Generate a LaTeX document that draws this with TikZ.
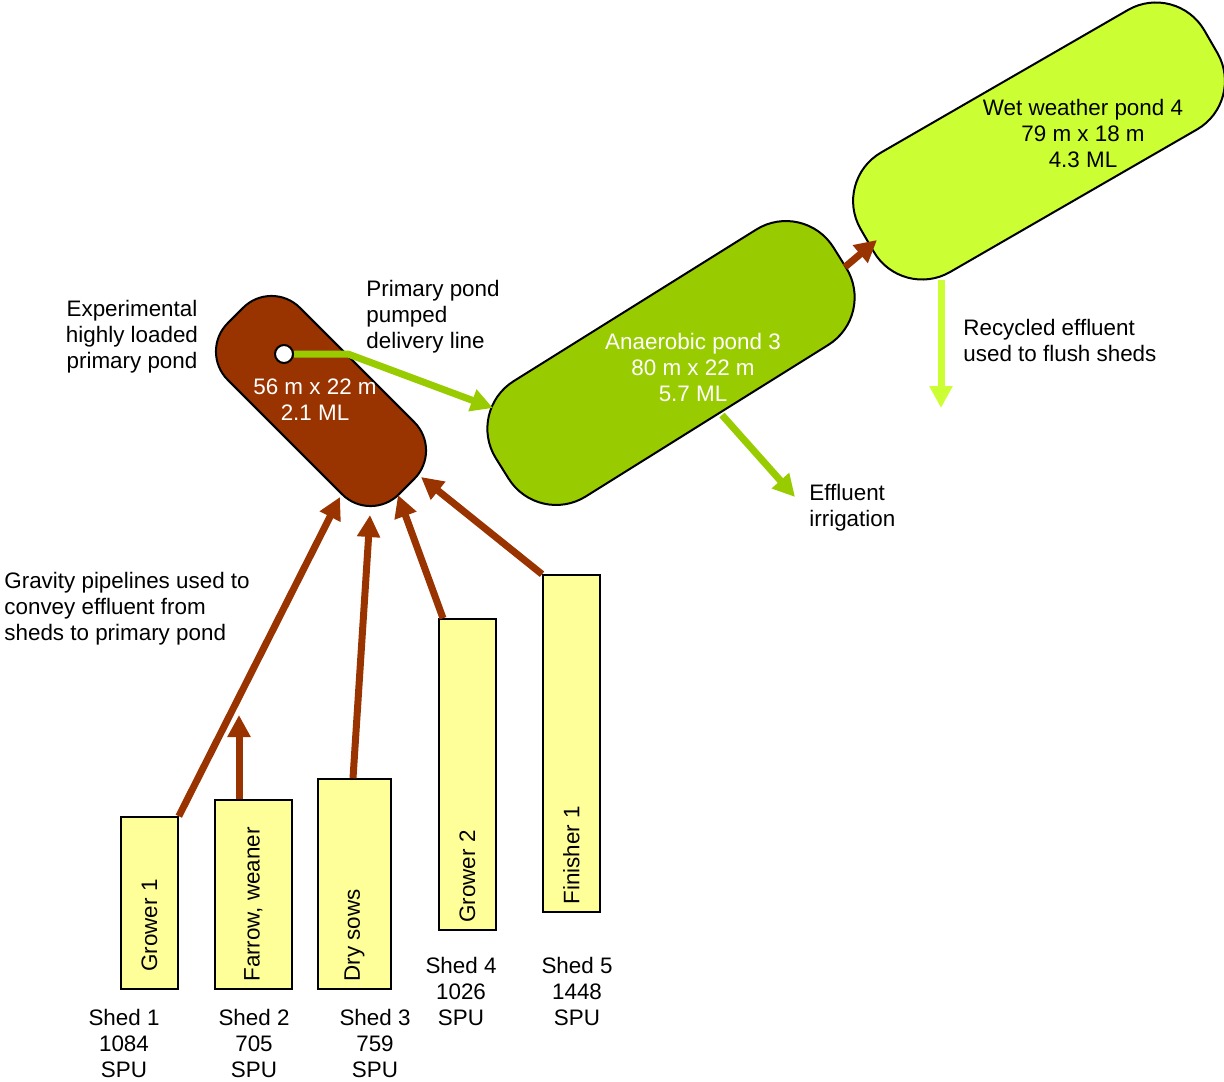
\documentclass[tikz,border=0pt]{standalone}
\usepackage{fontspec}
\setmainfont{Liberation Sans}
\usetikzlibrary{arrows.meta}
\definecolor{pondBrown}{HTML}{993300}
\definecolor{pondGreen}{HTML}{99CC00}
\definecolor{pondLime}{HTML}{CCFF33}
\definecolor{shedYellow}{HTML}{FFFF99}

\begin{document}
\begin{tikzpicture}[x=0.5pt, y=-0.5pt, font=\fontsize{11.2}{13}\selectfont,
  pond/.style={draw, line width=1pt},
  shedbox/.style={draw, line width=0.9pt, fill=shedYellow, anchor=south west},
  shedname/.style={rotate=90, anchor=west, inner sep=0pt},
  lbl/.style={align=center, inner sep=0pt},
  pipe/.style={line width=3.5pt, draw=pondBrown, -{Triangle[length=11pt,width=11pt]}},
  flow/.style={line width=3.5pt, draw=#1, -{Triangle[length=11pt,width=11pt,fill=#1]}}]
\useasboundingbox (0,0) rectangle (1224,1081);
% ponds
\node[pond, fill=pondBrown, minimum width=121pt, minimum height=51pt, rounded corners=20pt, rotate=-45] (P1) at (321,401) {};
\node[pond, fill=pondGreen, minimum width=199pt, minimum height=68pt, rounded corners=28pt, rotate=32] (P3) at (671,363) {};
\node[pond, fill=pondLime, minimum width=198.5pt, minimum height=69pt, rounded corners=28pt, rotate=30] (P4) at (1039,141) {};
\node[circle, draw, fill=white, line width=1pt, minimum size=9pt, inner sep=0pt] (hole) at (284,354) {};
\node[lbl, text=white] (P1txt) at (315,400) {56 m x 22 m\\2.1 ML};
\node[lbl, text=white] (P3txt) at (693,367) {Anaerobic pond 3\\80 m x 22 m\\5.7 ML};
\node[lbl] (P4txt) at (1083,133) {Wet weather pond 4\\79 m x 18 m\\4.3 ML};

% sheds
\node[shedbox, minimum width=28.5pt, minimum height=86pt] (s1) at (120,990) {};
\node[shedbox, minimum width=38.5pt, minimum height=94.5pt] (s2) at (214,990) {};
\node[shedbox, minimum width=36.5pt, minimum height=105pt] (s3) at (317,990) {};
\node[shedbox, minimum width=28.5pt, minimum height=155.5pt] (s4) at (438,931) {};
\node[shedbox, minimum width=28.5pt, minimum height=168.5pt] (s5) at (542,913) {};
\node[shedname] at ([yshift=9pt]s1.south) {Grower 1};
\node[shedname] at ([yshift=4pt]s2.south) {Farrow, weaner};
\node[shedname] at ([yshift=4pt]s3.south) {Dry sows};
\node[shedname] at ([yshift=4pt]s4.south) {Grower 2};
\node[shedname] at ([yshift=4pt]s5.south) {Finisher 1};
\node[lbl] (s1txt) at (124,1043) {Shed 1\\1084\\SPU};
\node[lbl] (s2txt) at (254,1043) {Shed 2\\705\\SPU};
\node[lbl] (s3txt) at (375,1043) {Shed 3\\759\\SPU};
\node[lbl] (s4txt) at (461,991) {Shed 4\\1026\\SPU};
\node[lbl] (s5txt) at (577,991) {Shed 5\\1448\\SPU};

% gravity pipelines into the primary pond
\coordinate (in1) at (340,497);
\coordinate (in2) at (239,715);
\coordinate (in3) at (370,515);
\coordinate (in4) at (398,495);
\coordinate (in5) at (421,477);
\draw[pipe] (s1.north east) -- (in1);
\draw[pipe] (s2.north -| in2) -- (in2);
\draw[pipe] ([xshift=18pt]s3.north west) -- (in3);
\draw[pipe] ([xshift=2.5pt]s4.north west) -- (in4);
\draw[pipe] (s5.north west) -- (in5);

% pond to pond
\coordinate (bend) at (348,354);
\coordinate (inP3) at (493,408);
\draw[flow=pondGreen] (hole.east) -- (bend) -- (inP3);
\coordinate (outP3) at (845,267);
\coordinate (inP4) at (877,240);
\draw[pipe] (outP3) -- (inP4);
\coordinate (irrA) at (722,415);
\coordinate (irrB) at (795,497);
\draw[flow=pondGreen] (irrA) -- (irrB);
\coordinate (flushA) at (941,280);
\coordinate (flushB) at (941,408);
\draw[flow=pondLime] (flushA) -- (flushB);

% notes
\node[lbl] (expTxt) at (132,337) {Experimental\\highly loaded\\primary pond};
\node[lbl, align=left, anchor=west] (pumpTxt) at (366,317) {Primary pond\\pumped\\delivery line};
\node[lbl, align=left, anchor=west] (flushTxt) at (963,340) {Recycled effluent\\used to flush sheds};
\node[lbl, align=left, anchor=west] (irrTxt) at (809,508) {Effluent\\irrigation};
\node[lbl, align=left, anchor=west] (gravTxt) at (4,609) {Gravity pipelines used to\\convey effluent from\\sheds to primary pond};
\end{tikzpicture}
\end{document}
